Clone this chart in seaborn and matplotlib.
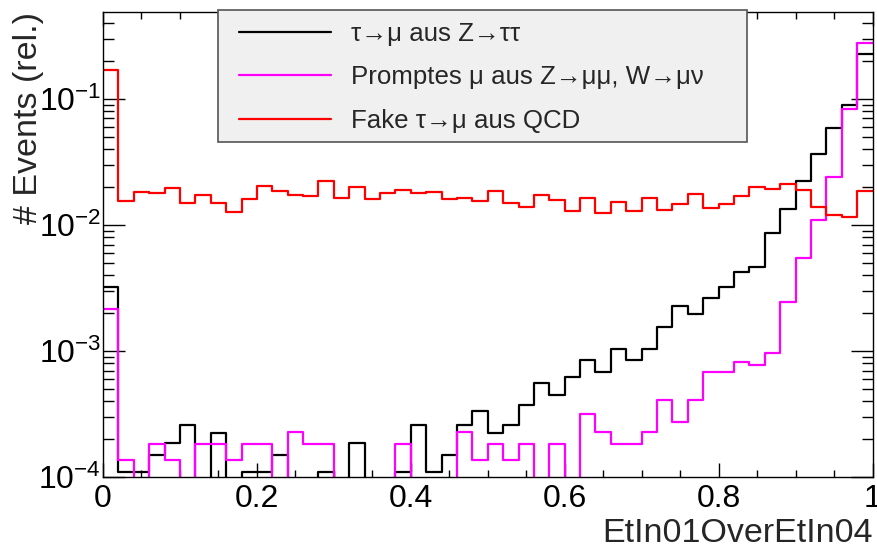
import numpy as np
import pandas as pd
import matplotlib
matplotlib.use("Agg")
import matplotlib.pyplot as plt
from matplotlib.patches import Rectangle
from matplotlib.ticker import LogLocator, MultipleLocator, NullFormatter
import seaborn as sns

# ---------------- data (50 bins on [0, 1]) ----------------
n_bins = 50
x_range = (0.0, 1.0)

z_tautau = [0.00322, 0.00011, 0.00011, 0.00015, 0.000185, 0.000259, 0.0, 0.000222, 0.0, 0.00011,
            0.00011, 0.00015, 0.0, 0.0, 0.00011, 0.0, 0.000185, 0.0, 0.0, 0.00011,
            0.000259, 0.00011, 0.00015, 0.000259, 0.000334, 0.000222, 0.000259, 0.000371, 0.000555, 0.000445,
            0.000625, 0.000853, 0.000678, 0.00104, 0.000853, 0.00104, 0.00156, 0.00229, 0.00195, 0.00265,
            0.00324, 0.00421, 0.00467, 0.00859, 0.0133, 0.0223, 0.0364, 0.0592, 0.0891, 0.227]

prompt_mu = [0.00216, 0.000136, 0.0, 0.000183, 0.000136, 0.0, 0.000183, 0.000183, 0.000136, 0.000183,
             0.000183, 0.0, 0.000228, 0.000183, 0.000183, 0.0, 0.0, 0.0, 0.0, 0.000183,
             0.0, 0.0, 0.0, 0.000228, 0.000136, 0.000183, 0.000136, 0.000183, 0.0, 0.000183,
             0.0, 0.000318, 0.000228, 0.000183, 0.000183, 0.000228, 0.000408, 0.000272, 0.000408, 0.000685,
             0.000685, 0.000822, 0.000774, 0.000965, 0.00246, 0.00545, 0.0110, 0.0239, 0.0828, 0.277]

fake_qcd = [0.17, 0.0156, 0.0183, 0.0180, 0.0197, 0.0150, 0.0172, 0.0150, 0.0126, 0.0161,
            0.0205, 0.0187, 0.0172, 0.0169, 0.0225, 0.0165, 0.0201, 0.0160, 0.0179, 0.0190,
            0.0178, 0.0183, 0.0161, 0.0164, 0.0156, 0.0185, 0.0150, 0.0138, 0.0174, 0.0159,
            0.0128, 0.0165, 0.0124, 0.0151, 0.0128, 0.0165, 0.0132, 0.0148, 0.0177, 0.0136,
            0.0146, 0.0171, 0.0201, 0.0194, 0.0211, 0.0190, 0.0138, 0.0119, 0.0116, 0.0187]

series_labels = ["τ→μ aus Z→ττ", "Promptes μ aus Z→μμ, W→μν", "Fake τ→μ aus QCD"]
series_colors = ["#000000", "#ff00ff", "#ff0000"]
x_label = "EtIn01OverEtIn04"
y_label = "# Events (rel.)"

# ---------------- figure ----------------
sns.set_style("ticks")
plt.rcParams["font.family"] = ["Liberation Sans", "DejaVu Sans"]
plt.rcParams["axes.unicode_minus"] = False

W, H = 877, 550
fig = plt.figure(figsize=(W / 100, H / 100), dpi=100)
ax = fig.add_axes([103 / W, 1 - 477 / H, (872.5 - 103) / W, (477 - 12) / H])

edges = np.linspace(x_range[0], x_range[1], n_bins + 1)
centers = 0.5 * (edges[:-1] + edges[1:])
for vals, lab, col in zip([z_tautau, prompt_mu, fake_qcd], series_labels, series_colors):
    df = pd.DataFrame({"x": centers, "w": vals})
    sns.histplot(data=df, x="x", weights="w", bins=n_bins, binrange=x_range, element="step",
                 fill=False, color=col, linewidth=1.6, label=lab, ax=ax, stat="count")

ax.set_yscale("log", nonpositive="clip")
ax.set_xlim(0, 1)
ax.set_ylim(1e-4, 0.49)

# ticks: inside, all four sides, ROOT-like
ax.xaxis.set_major_locator(MultipleLocator(0.2))
ax.xaxis.set_minor_locator(MultipleLocator(0.05))
ax.yaxis.set_major_locator(LogLocator(base=10))
ax.yaxis.set_minor_locator(LogLocator(base=10, subs=np.arange(2, 10)))
ax.yaxis.set_minor_formatter(NullFormatter())
ax.xaxis.set_major_formatter(matplotlib.ticker.FuncFormatter(lambda v, p: f"{v:g}"))
ax.tick_params(axis="both", which="both", direction="in", top=True, right=True,
               colors="black", width=1.0)
ax.tick_params(axis="x", which="major", length=10, labelsize=23, pad=5)
ax.tick_params(axis="x", which="minor", length=5)
ax.tick_params(axis="y", which="major", length=16, labelsize=23, pad=1.5)
ax.tick_params(axis="y", which="minor", length=8)
for s in ax.spines.values():
    s.set_visible(True)
    s.set_color("black")
    s.set_linewidth(1.0)

ax.set_xlabel(x_label, fontsize=24.5, loc="right")
ax.set_ylabel(y_label, fontsize=24.5, loc="top")
ax.yaxis.set_label_coords((44 - 103) / 769.5, 1.0)
ax.xaxis.set_label_coords(1.0, -0.088)

# legend box (ROOT TLegend style)
box = Rectangle((218 / W, 1 - 142 / H), (747 - 218) / W, 132 / H, transform=fig.transFigure,
                facecolor="#f0f0f0", edgecolor="#555555", linewidth=1.2, zorder=4, clip_on=False)
ax.add_patch(box)
handles, labels = ax.get_legend_handles_labels()
leg = ax.legend(handles, labels, loc="upper left", bbox_to_anchor=(239 / W, 1 - 22 / H),
                bbox_transform=fig.transFigure, frameon=False, borderpad=0, borderaxespad=0,
                handlelength=3.55, handletextpad=0.78, labelspacing=0.75,
                prop={"family": ["Liberation Sans", "DejaVu Sans"], "size": 18.6})
leg.set_zorder(5)

fig.savefig("out.png", dpi=100, facecolor="white")
